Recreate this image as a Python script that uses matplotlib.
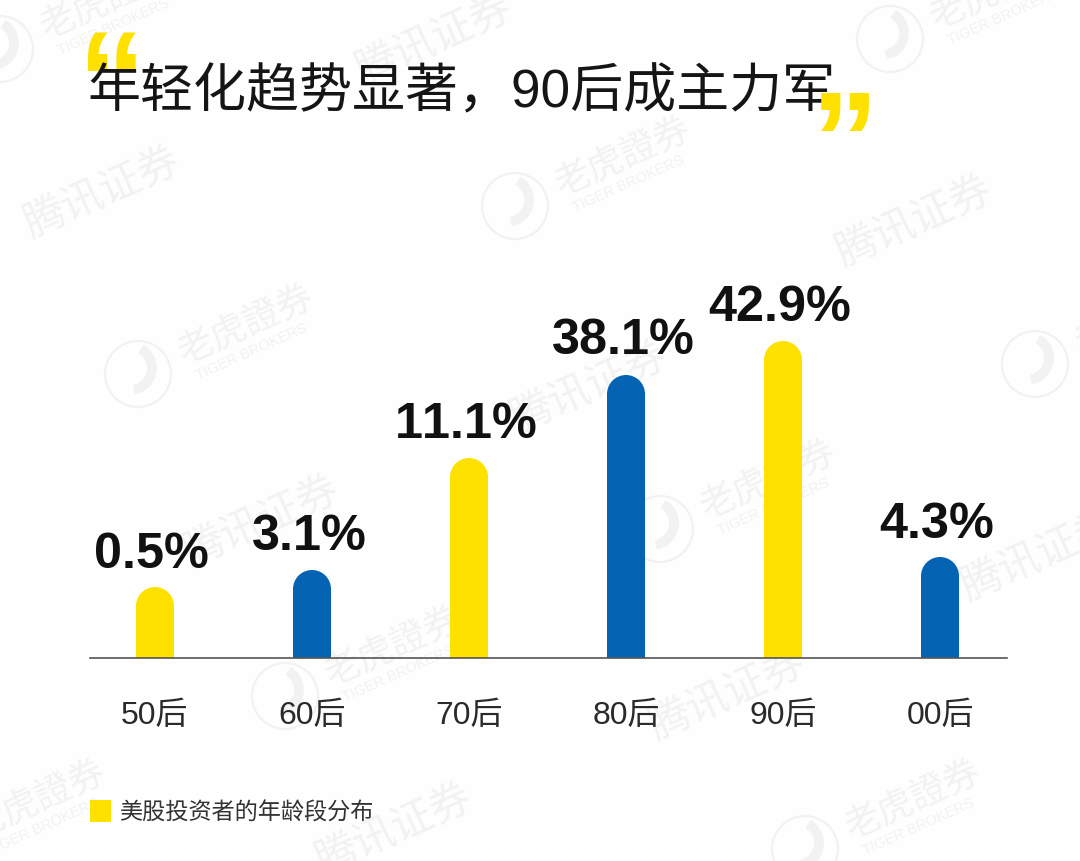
import numpy as np
import matplotlib
matplotlib.use("Agg")
import matplotlib.pyplot as plt
from matplotlib.patches import Ellipse, Rectangle, Circle, Arc
from matplotlib.transforms import IdentityTransform

# ---- data ----
categories = ["50后", "60后", "70后", "80后", "90后", "00后"]
values = [0.5, 3.1, 11.1, 38.1, 42.9, 4.3]
# drawn bar heights (the original is not to linear scale)
bar_heights = [71, 88, 200, 283, 317, 101]
label_gaps = [20, 21, 21, 22, 21, 20]
bar_colors = ["#FFE100", "#0563B4", "#FFE100", "#0563B4", "#FFE100", "#0563B4"]
title = "年轻化趋势显著，90后成主力军"
legend_text = "美股投资者的年龄段分布"

W, H = 1080, 862
FONT = ["Liberation Sans", "Noto Sans CJK SC"]
plt.rcParams["font.family"] = FONT
plt.rcParams["text.kerning_factor"] = 6


def fx(x):
    return x / W


def fy(y):
    return 1 - y / H


fig = plt.figure(figsize=(W / 100, H / 100), dpi=100, facecolor="#FEFEFE")

# ---- watermarks ----
WM = "#F2F2F2"
tencent_marks = [(103, 193), (915, 222), (435, 40), (590, 388), (262, 522),
                 (728, 695), (1040, 556), (395, 830)]
tiger_marks = [(138, 375), (515, 207), (660, 530), (285, 697), (890, 40),
               (0, 50), (1035, 365), (805, 850), (-70, 850)]
for x, y in tencent_marks:
    fig.text(fx(x), fy(y), "腾讯证券", fontsize=30, color=WM, rotation=24,
             ha="center", va="center", zorder=-2, family="Noto Sans CJK SC")
for x, y in tiger_marks:
    tr = IdentityTransform()
    fig.add_artist(Circle((x, H - y), 33, transform=tr, fill=False, ec=WM, lw=1.6, zorder=-2))
    fig.add_artist(Arc((x - 8, H - y + 6), 44, 44, angle=0, theta1=-80, theta2=60,
                       transform=tr, ec=WM, lw=7, zorder=-2))
    fig.text(fx(x + 108), fy(y - 50), "老虎證券", fontsize=26, color=WM, rotation=24,
             ha="center", va="center", zorder=-2, family="Noto Sans CJK SC")
    fig.text(fx(x + 113), fy(y - 23), "TIGER BROKERS", fontsize=10.5, color=WM, rotation=24,
             ha="center", va="center", zorder=-2)

# ---- quote marks and title ----
fig.text(fx(78), fy(126), "“", fontsize=98, color="#FFE100", fontweight="bold",
         ha="left", va="baseline", zorder=1)
fig.text(fx(87), fy(107), title, fontsize=38.2, color="#151515", ha="left",
         va="baseline", zorder=2)
fig.text(fx(810), fy(186), "”", fontsize=98, color="#FFE100", fontweight="bold",
         ha="left", va="baseline", zorder=3)

# ---- bars ----
ax = fig.add_axes([fx(90), fy(659), (1007 - 90) / W, 400 / H], facecolor="none")
x_pos = np.arange(len(categories))
step = 157
ax.set_xlim((90 - 155) / step, (1007 - 155) / step)
ax.set_ylim(0, 400)
bar_w = 38 / step
radius = 19
ax.bar(x_pos, np.array(bar_heights) - radius, width=bar_w, color=bar_colors, zorder=2)
for x, h, c in zip(x_pos, bar_heights, bar_colors):
    ax.add_patch(Ellipse((x, h - radius), bar_w, 2 * radius, fc=c, ec="none", zorder=2))
for x, h, v, g in zip(x_pos, bar_heights, values, label_gaps):
    ax.text(x - 0.02, h + g, f"{v}%", ha="center", va="baseline", fontsize=36.3,
            fontweight="bold", color="#111111", zorder=4)

ax.set_xticks(x_pos, categories, fontsize=23, color="#2A2A2A")
ax.set_yticks([])
ax.tick_params(axis="x", length=0, pad=30)
for s in ("top", "left", "right"):
    ax.spines[s].set_visible(False)
ax.spines["bottom"].set_color("#555555")
ax.spines["bottom"].set_linewidth(1.2)

# ---- legend ----
fig.add_artist(Rectangle((fx(90), fy(823)), 21 / W, 22 / H, transform=fig.transFigure,
                         fc="#FFE100", ec="none", zorder=3))
fig.text(fx(119), fy(813), legend_text, fontsize=16.7, color="#333333", ha="left",
         va="center", zorder=3)

fig.savefig("out.png", dpi=100, facecolor=fig.get_facecolor())
